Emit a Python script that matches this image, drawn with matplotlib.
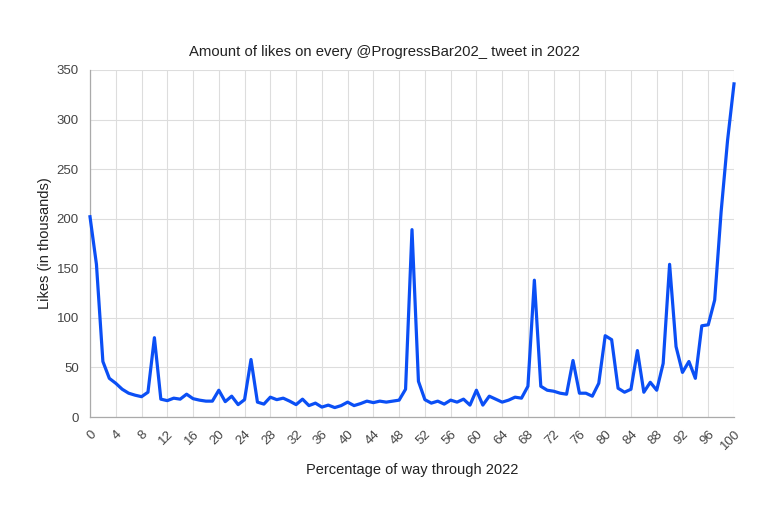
import matplotlib
matplotlib.use("Agg")
import matplotlib.pyplot as plt

# percentage of the way through 2022 (0..100)
pct = list(range(101))

# likes in thousands
likes = [202, 154, 56, 39, 34, 28, 24, 22, 20.5, 25,
         80, 18, 16.5, 19, 18, 23, 18.5, 17, 16, 16,
         27, 15.5, 21, 12.5, 17.5, 58, 15, 13, 20, 17.5,
         19, 16, 12.5, 18, 11.5, 14, 10, 12, 9.5, 11.5,
         15, 11.5, 13.5, 16, 14.5, 16, 15, 16, 17, 28,
         189, 36, 17.5, 14, 16, 13, 17, 15, 18, 12,
         27, 12, 21, 18, 15, 17, 20, 19, 31, 138,
         31, 27, 26, 24, 23, 57, 24, 24, 21, 34,
         82, 78, 29, 25, 28, 67, 25, 35, 27, 54,
         154, 71, 45, 56, 39, 92, 93, 118, 207, 279,
         336]

xticks = list(range(0, 101, 4))
yticks = list(range(0, 351, 50))

plt.rcParams['font.family'] = ['Liberation Sans', 'DejaVu Sans']

fig = plt.figure(figsize=(7.68, 5.12), dpi=100)
ax = fig.add_axes([90/768, 1-417/512, 644/768, 347/512])

ax.plot(pct, likes, color='#0b4ff5', linewidth=2.3, clip_on=False, zorder=3)

ax.set_xlim(0, 100)
ax.set_ylim(0, 350)
ax.set_xticks(xticks)
ax.set_yticks(yticks)
ax.set_xticklabels([str(t) for t in xticks], rotation=45, ha='right',
                   rotation_mode='anchor', fontsize=9.5, color='#444444')
ax.set_yticklabels([str(t) for t in yticks], fontsize=9.5, color='#444444')
ax.tick_params(axis='x', length=0, pad=8)
ax.tick_params(axis='y', length=0, pad=8)

ax.grid(True, color='#dddddd', linewidth=0.8)
ax.set_axisbelow(True)
for s in ['top', 'right']:
    ax.spines[s].set_visible(False)
for s in ['left', 'bottom']:
    ax.spines[s].set_color('#aaaaaa')
    ax.spines[s].set_linewidth(0.9)

# title is centred on the whole figure in the reference
fig.text(0.5, 1-52/512, "Amount of likes on every @ProgressBar202_ tweet in 2022",
         ha='center', va='center', fontsize=10.7, color='#222222')
ax.set_xlabel("Percentage of way through 2022", fontsize=10.5,
              color='#222222', labelpad=8)
ax.set_ylabel("Likes (in thousands)", fontsize=10.5, color='#222222',
              labelpad=3)

fig.savefig("out.png", dpi=100)
